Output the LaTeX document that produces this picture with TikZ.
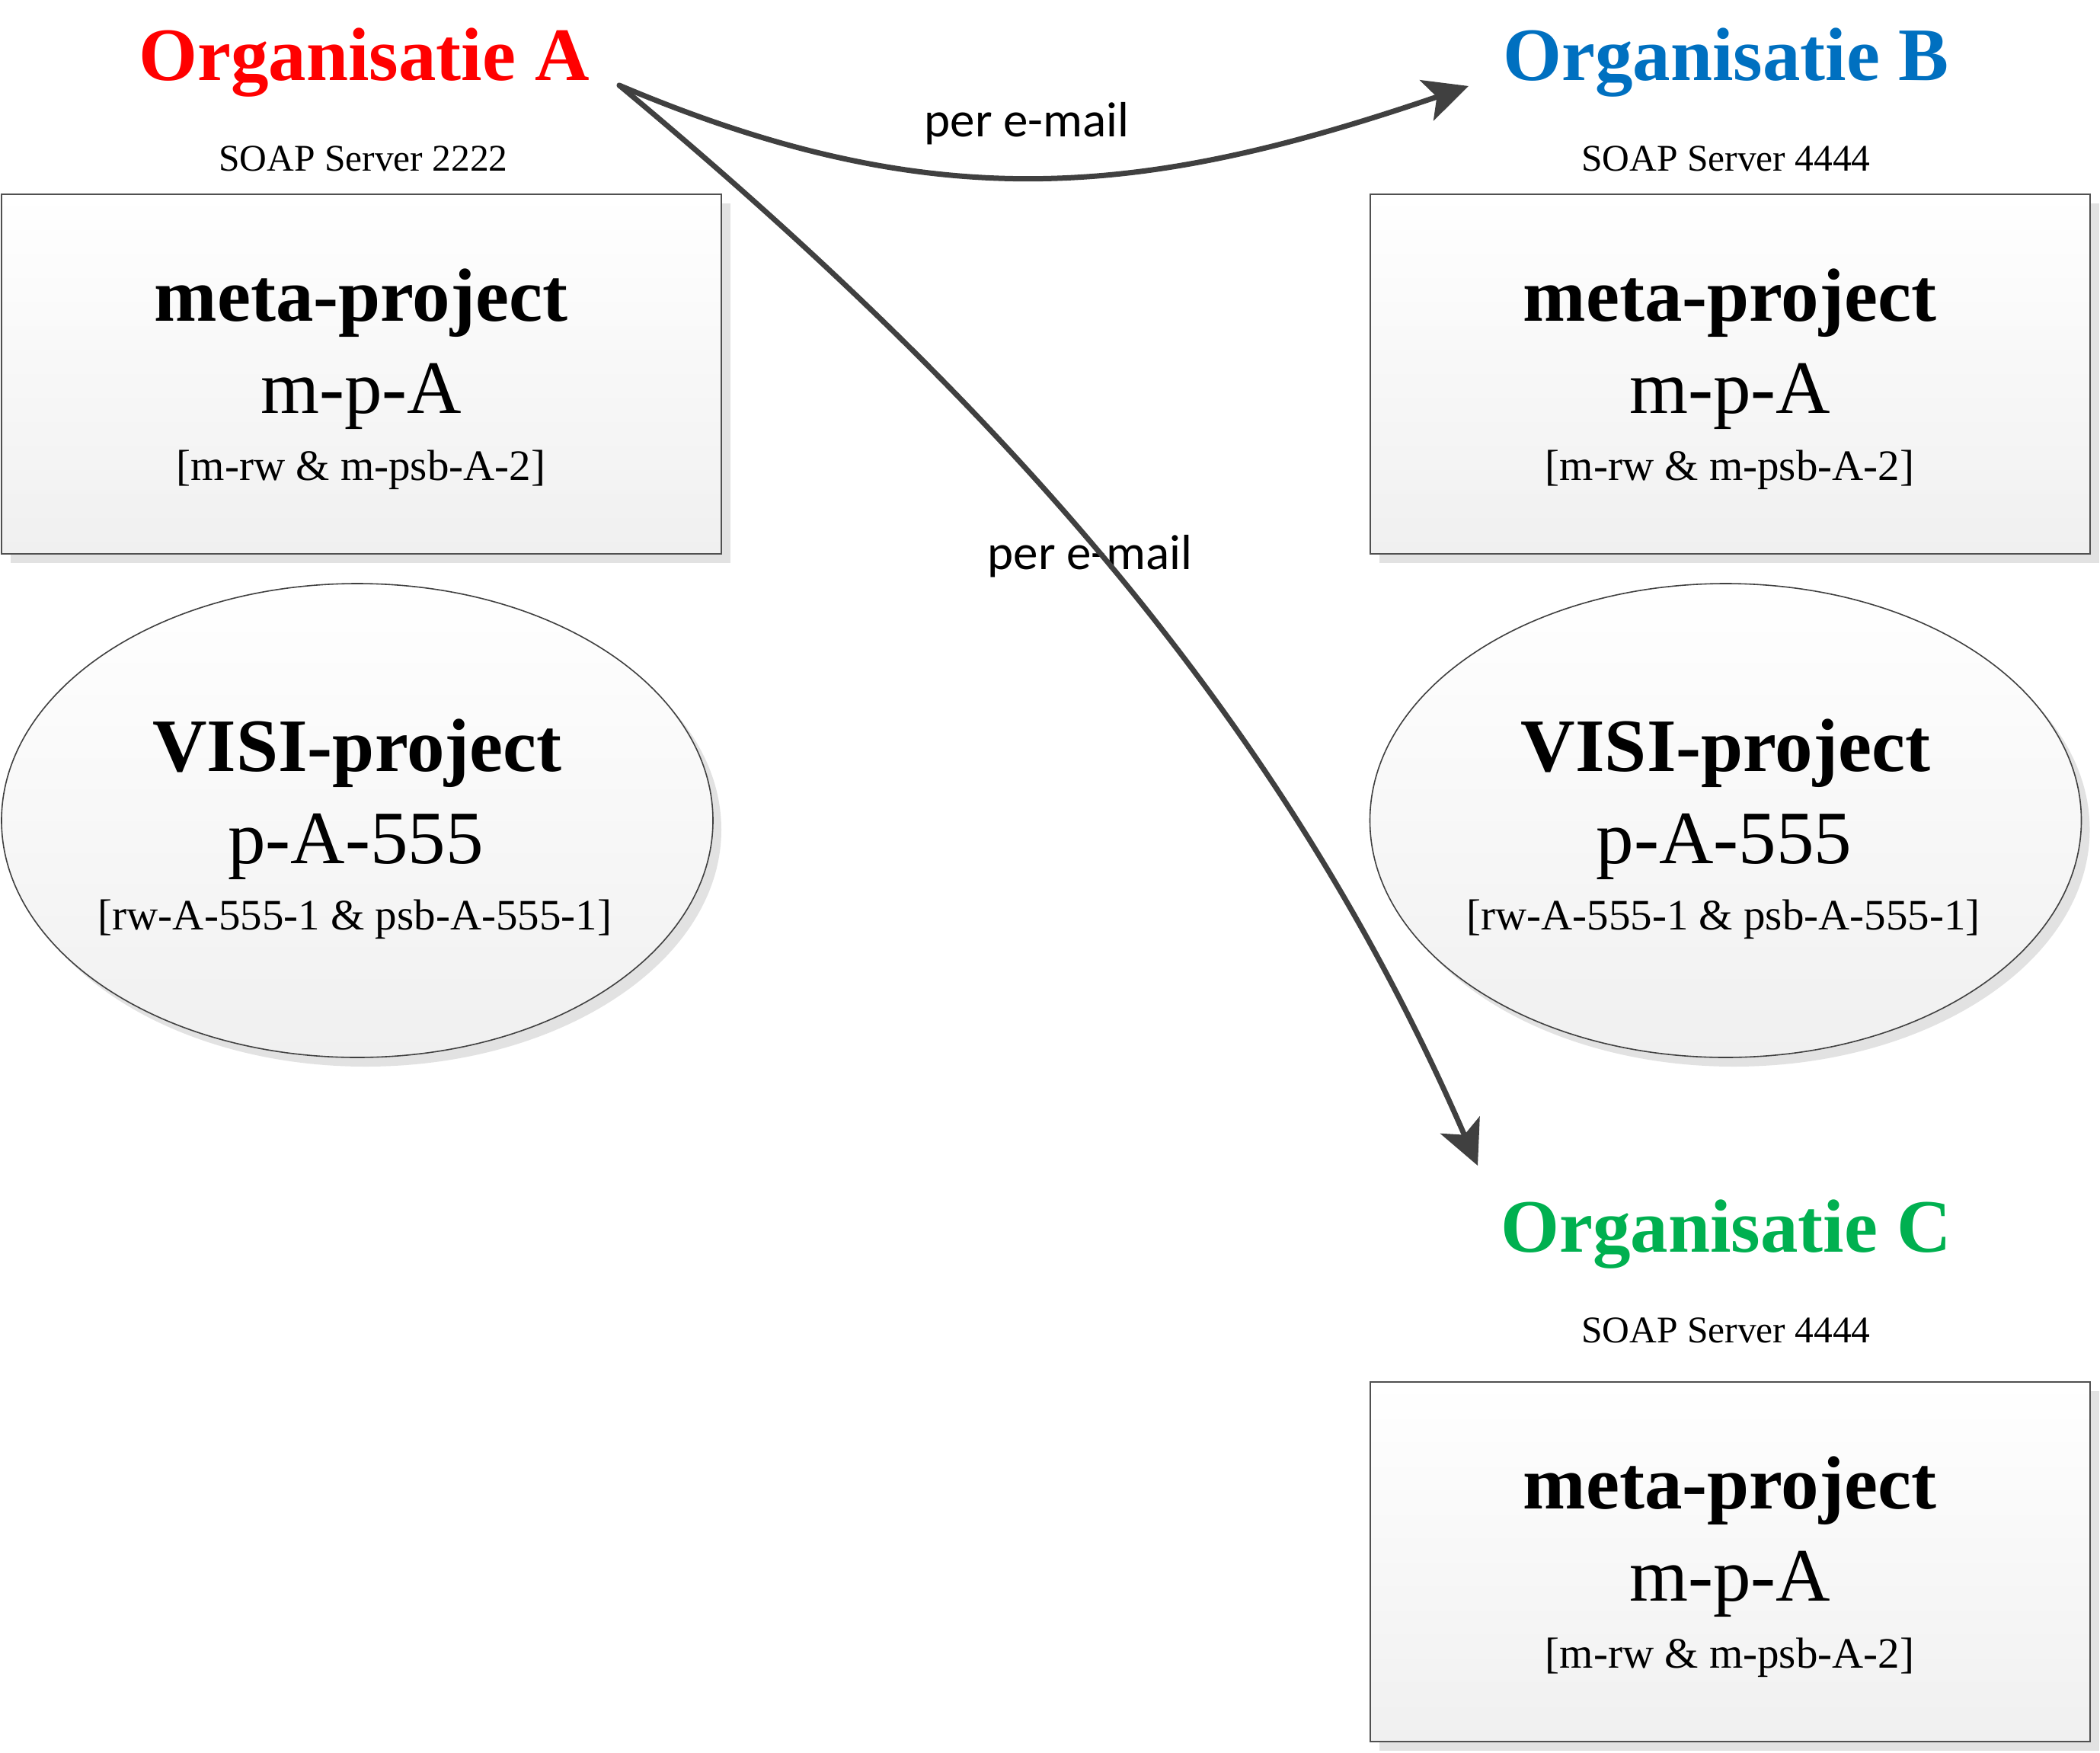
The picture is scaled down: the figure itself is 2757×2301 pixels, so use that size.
\documentclass[tikz,border=0pt]{standalone}
\usepackage{fontspec}
\setmainfont{Liberation Serif}
\newfontfamily\calib{Carlito}
\usetikzlibrary{shapes.geometric,shadows,arrows.meta}
\definecolor{orgred}{RGB}{255,0,0}
\definecolor{orgblue}{RGB}{0,112,192}
\definecolor{orggreen}{RGB}{0,176,80}
\definecolor{arrowgray}{RGB}{64,64,64}
\definecolor{framegray}{RGB}{80,80,80}
\definecolor{shadowgray}{RGB}{226,226,226}
\definecolor{fillbottom}{RGB}{240,240,240}
\begin{document}
\begin{tikzpicture}[x=1pt,y=-1pt,
  boxshape/.style={draw=framegray, line width=2pt, rectangle, minimum width=945pt, minimum height=472pt, inner sep=0pt,
    top color=white, bottom color=fillbottom,
    drop shadow={shadow xshift=12pt, shadow yshift=-12pt, fill=shadowgray, opacity=1}},
  ellshape/.style={draw=arrowgray, line width=1.6pt, ellipse, minimum width=934pt, minimum height=622pt, inner sep=0pt,
    top color=white, bottom color=fillbottom,
    drop shadow={shadow xshift=11pt, shadow yshift=-12pt, fill=shadowgray, opacity=1}},
  txt/.style={anchor=base, inner sep=0pt},
  title/.style={txt, font=\fontsize{99}{110}\selectfont\bfseries},
  server/.style={txt, font=\fontsize{49.5}{55}\selectfont},
  bigbold/.style={txt, font=\fontsize{99}{110}\selectfont\bfseries},
  bigreg/.style={txt, font=\fontsize{99}{110}\selectfont},
  small/.style={txt, font=\fontsize{57}{64}\selectfont},
  mail/.style={txt, font=\calib\fontsize{65}{72}\selectfont},
  mailarrow/.style={draw=arrowgray, line width=7pt, line cap=round, -{Stealth[length=58pt,width=56pt,inset=14pt]}}
]
\fill[white] (0,0) rectangle (2757,2301);
\useasboundingbox (0,0) rectangle (2757,2301);

% titles
\node[title, text=orgred]   (orgA) at (478,106)  {Organisatie A};
\node[title, text=orgblue]  (orgB) at (2266,106) {Organisatie B};
\node[title, text=orggreen] (orgC) at (2266,1643) {Organisatie C};
\node[server] (srvA) at (477,225)   {SOAP Server 2222};
\node[server] (srvB) at (2266,225)  {SOAP Server 4444};
\node[server] (srvC) at (2266,1762) {SOAP Server 4444};

% boxes
\node[boxshape] (boxA) at (474,490.75) {};
\node[boxshape] (boxB) at (2271,490.75) {};
\node[boxshape] (boxC) at (2271,2050.3) {};
\node[bigbold] (mpA1) at (474,421) {meta-project};
\node[bigreg]  (mpA2) at (474,542) {m-p-A};
\node[small]   (mpA3) at (474,630) {[m-rw \& m-psb-A-2]};
\node[bigbold] (mpB1) at (2271,421) {meta-project};
\node[bigreg]  (mpB2) at (2271,542) {m-p-A};
\node[small]   (mpB3) at (2271,630) {[m-rw \& m-psb-A-2]};
\node[bigbold] (mpC1) at (2271,1980.5) {meta-project};
\node[bigreg]  (mpC2) at (2271,2101.5) {m-p-A};
\node[small]   (mpC3) at (2271,2189.5) {[m-rw \& m-psb-A-2]};

% ellipses
\node[ellshape] (ellA) at (469,1077) {};
\node[ellshape] (ellB) at (2265.5,1077) {};
\node[bigbold] (vpA1) at (469,1012) {VISI-project};
\node[bigreg]  (vpA2) at (467,1133) {p-A-555};
\node[small]   (vpA3) at (466,1220) {[rw-A-555-1 \& psb-A-555-1]};
\node[bigbold] (vpB1) at (2265.5,1012) {VISI-project};
\node[bigreg]  (vpB2) at (2263.5,1133) {p-A-555};
\node[small]   (vpB3) at (2262.5,1220) {[rw-A-555-1 \& psb-A-555-1]};

% arrows
\node[mail] (mail1) at (1348,180) {per e-mail};
\node[mail] (mail2) at (1431,747) {per e-mail};
\coordinate (start) at (813,112);
\coordinate (tipB) at (1928,113);
\coordinate (tipC) at (1940,1530);
\draw[mailarrow] (start) .. controls (1233,290) and (1508,256) .. (tipB);
\draw[mailarrow] (start) .. controls (1352,560) and (1700,978) .. (tipC);
\end{tikzpicture}
\end{document}
